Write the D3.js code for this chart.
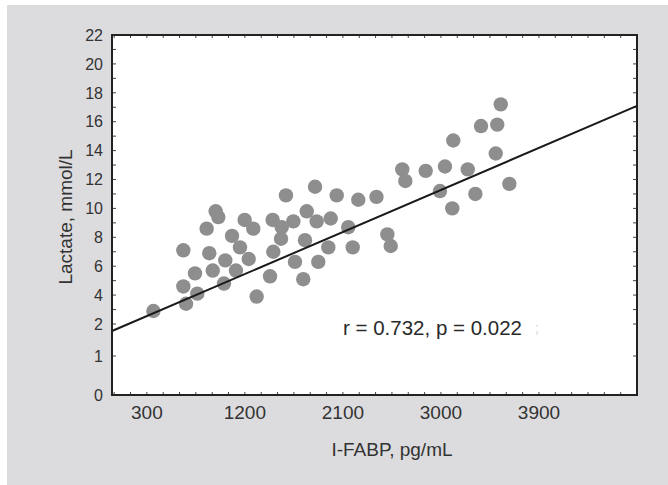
<!DOCTYPE html>
<html>
<head>
<meta charset="utf-8">
<script src="https://cdn.jsdelivr.net/npm/d3@7"></script>
<style>
  body { margin: 0; background: #fff; }
  text { font-family: "Liberation Sans", Arial, sans-serif; }
</style>
</head>
<body>
<div id="chart"></div>
<script>
const xTicks = [300, 1200, 2100, 3000, 3900];
const yTicks = [0, 1, 2, 4, 6, 8, 10, 12, 14, 16, 18, 20, 22];

// I-FABP (pg/mL) and lactate (mmol/L)
const fabp = [360, 635, 635, 660, 763, 742, 849, 873, 905, 932, 956, 1020, 1008, 1082, 1118,
  1155, 1198, 1277, 1235, 1308, 1431, 1461, 1455, 1538, 1532, 1577, 1645, 1660, 1736, 1752,
  1768, 1844, 1859, 1874, 1966, 1988, 2043, 2149, 2190, 2241, 2408, 2508, 2539, 2645, 2673,
  2860, 2991, 3037, 3104, 3113, 3246, 3316, 3368, 3503, 3517, 3549, 3628];
const lactate = [2.9, 7.1, 4.6, 3.4, 4.1, 5.5, 8.6, 6.9, 5.7, 9.8, 9.4, 6.4, 4.8, 8.1, 5.7,
  7.3, 9.2, 8.6, 6.5, 3.9, 5.3, 7.0, 9.2, 8.7, 7.9, 10.9, 9.1, 6.3, 5.1, 7.8,
  9.8, 11.5, 9.1, 6.3, 7.3, 9.3, 10.9, 8.7, 7.3, 10.6, 10.8, 8.2, 7.4, 12.7, 11.9,
  12.6, 11.2, 12.9, 10.0, 14.7, 12.7, 11.0, 15.7, 13.8, 15.8, 17.2, 11.7];

// regression line end points
const fitX = [-20, 4800];
const fitY = [1.78, 17.1];

const width = 668, height = 485;
const plot = { left: 112, right: 637, top: 35, bottom: 395 };

const svg = d3.select("#chart").append("svg")
    .attr("width", width)
    .attr("height", height);

svg.append("rect")
    .attr("x", 7).attr("y", 5)
    .attr("width", width - 7).attr("height", height - 5)
    .attr("fill", "#dcdcde");

svg.append("rect")
    .attr("x", plot.left).attr("y", plot.top)
    .attr("width", plot.right - plot.left)
    .attr("height", plot.bottom - plot.top)
    .attr("fill", "#fff");

const x = d3.scaleLinear().domain([-20, 4800]).range([plot.left, plot.right]);
// the y axis is stretched below 2
const y = d3.scaleLinear().domain([0, 1, 2, 22]).range([395, 356, 324, 35]);

// inward ticks
const yMinor = d3.range(0, 22.5, 1);
const xMinor = d3.range(0, 4800, 150);
const tickG = svg.append("g").attr("stroke", "#444").attr("stroke-width", 1);

yMinor.forEach(v => {
  tickG.append("line").attr("x1", plot.left).attr("x2", plot.left + 4)
      .attr("y1", y(v)).attr("y2", y(v));
  tickG.append("line").attr("x1", plot.right).attr("x2", plot.right - 4)
      .attr("y1", y(v)).attr("y2", y(v));
});
xMinor.forEach(v => {
  tickG.append("line").attr("x1", x(v)).attr("x2", x(v))
      .attr("y1", plot.bottom).attr("y2", plot.bottom - 3);
  tickG.append("line").attr("x1", x(v)).attr("x2", x(v))
      .attr("y1", plot.top).attr("y2", plot.top + 3);
});

// points
svg.append("g")
  .selectAll("circle")
  .data(fabp.map((d, i) => [d, lactate[i]]))
  .enter().append("circle")
    .attr("cx", d => x(d[0]))
    .attr("cy", d => y(d[1]))
    .attr("r", 7.2)
    .attr("fill", "#8e8e8e");

// fit line
const line = d3.line().x(d => x(d[0])).y(d => y(d[1]));
svg.append("path")
    .datum(fitX.map((d, i) => [d, fitY[i]]))
    .attr("fill", "none")
    .attr("stroke", "#1a1a1a")
    .attr("stroke-width", 2)
    .attr("d", line);

// frame
svg.append("rect")
    .attr("x", plot.left).attr("y", plot.top)
    .attr("width", plot.right - plot.left)
    .attr("height", plot.bottom - plot.top)
    .attr("fill", "none")
    .attr("stroke", "#222")
    .attr("stroke-width", 2);

// tick labels
svg.append("g").selectAll("text")
  .data(yTicks)
  .enter().append("text")
    .attr("x", 103)
    .attr("y", d => y(d))
    .attr("dy", "0.36em")
    .attr("text-anchor", "end")
    .attr("font-size", "16px")
    .attr("fill", "#333")
    .text(d => d);

svg.append("g").selectAll("text")
  .data(xTicks)
  .enter().append("text")
    .attr("x", d => x(d))
    .attr("y", 419)
    .attr("text-anchor", "middle")
    .attr("font-size", "19px")
    .attr("fill", "#333")
    .text(d => d);

// axis titles
svg.append("text")
    .attr("x", 392)
    .attr("y", 456)
    .attr("text-anchor", "middle")
    .attr("font-size", "19px")
    .attr("fill", "#333")
    .text("I-FABP, pg/mL");

svg.append("text")
    .attr("transform", "translate(72,217) rotate(-90)")
    .attr("text-anchor", "middle")
    .attr("font-size", "19px")
    .attr("fill", "#333")
    .text("Lactate, mmol/L");

// annotation
svg.append("text")
    .attr("x", 343)
    .attr("y", 335)
    .attr("font-size", "20.5px")
    .attr("fill", "#2a2a2a")
    .text("r = 0.732, p = 0.022");

svg.append("text")
    .attr("x", 535)
    .attr("y", 333)
    .attr("font-size", "14px")
    .attr("fill", "#d4d4d4")
    .text(";");
</script>
</body>
</html>
